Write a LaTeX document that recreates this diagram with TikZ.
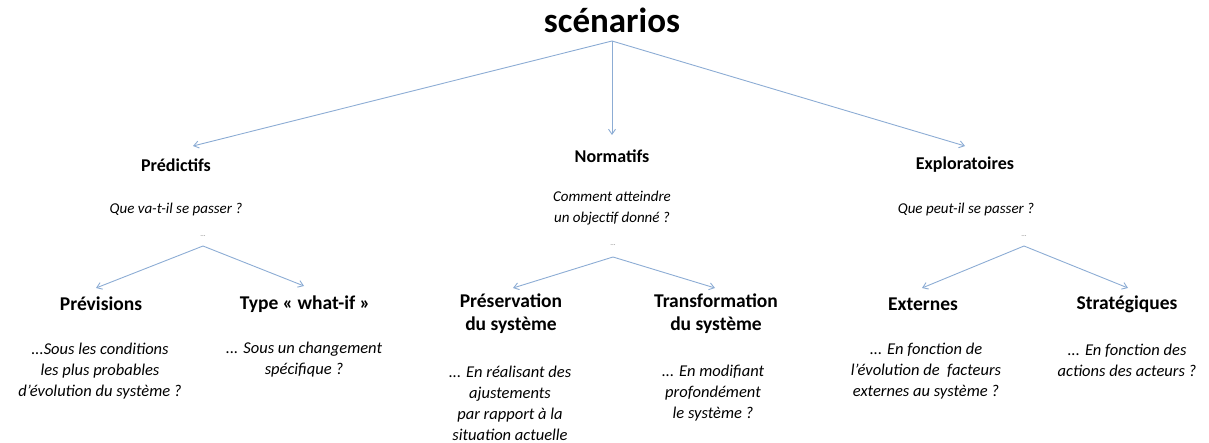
\documentclass[tikz,border=0pt]{standalone}
\usepackage{fontspec}
\setmainfont{Carlito}
\usetikzlibrary{arrows.meta}

\definecolor{lien}{RGB}{140,172,212}
\definecolor{points}{RGB}{120,120,120}

\tikzset{
    titre/.style={font=\fontsize{35}{38}\selectfont\bfseries},
    famille/.style={font=\fontsize{18}{21}\selectfont\bfseries, align=center},
    sousfamille/.style={font=\fontsize{19.5}{23}\selectfont\bfseries, align=center},
    question/.style={font=\fontsize{15}{21}\selectfont\itshape, align=center},
    detail/.style={font=\fontsize{16.5}{21}\selectfont\itshape, align=center},
    suite/.style={font=\fontsize{7}{8}\selectfont, text=points, inner sep=0pt},
    fleche/.style={draw=lien, line width=0.9pt, -{Straight Barb[length=5pt,width=7pt]}}
}

\begin{document}
\begin{tikzpicture}[x=1pt,y=-1pt]
        \useasboundingbox (0,0) rectangle (1209,443);
        % racine
        \node[titre] (scen) at (612,20) {scénarios};
        \coordinate (depart) at (612,41);
        % trois familles
        \node[famille] (pred) at (176,165) {Prédictifs};
        \node[famille] (norm) at (612,156) {Normatifs};
        \node[famille] (expl) at (965,165) {Exploratoires};
        \coordinate (predbout) at (193,146);
        \coordinate (normbout) at (612,135);
        \coordinate (explbout) at (965,146);
        \node[question] (qpred) at (176,210) {Que va-t-il se passer ?};
        \node[question] (qnorm) at (612,208) {Comment atteindre\\un objectif donné ?};
        \node[question] (qexpl) at (966,210) {Que peut-il se passer ?};
        \node[suite] (dpred) at (203,236) {...};
        \node[suite] (dnorm) at (613,245) {...};
        \node[suite] (dexpl) at (1024,236) {...};
        \draw[fleche] (depart) -- (predbout);
        \draw[fleche] (depart) -- (normbout);
        \draw[fleche] (depart) -- (explbout);
        % sous-types
        \node[sousfamille] (prev) at (101,304) {Prévisions};
        \node[sousfamille] (whatif) at (305,304) {Type « what-if »};
        \node[sousfamille] (pres) at (511,314) {Préservation\\du système};
        \node[sousfamille] (trans) at (716,314) {Transformation\\du système};
        \node[sousfamille] (ext) at (923,304) {Externes};
        \node[sousfamille] (strat) at (1127,304) {Stratégiques};
        \coordinate (p0) at (203,246);
        \coordinate (p1) at (96,288);
        \coordinate (p2) at (304,286);
        \coordinate (n0) at (613,257);
        \coordinate (n1) at (513,288);
        \coordinate (n2) at (715,288);
        \coordinate (e0) at (1024,246);
        \coordinate (e1) at (922,288);
        \coordinate (e2) at (1128,288);
        \foreach \a/\b in {p0/p1,p0/p2,n0/n1,n0/n2,e0/e1,e0/e2}
            \draw[fleche] (\a) -- (\b);
        % descriptions
        \node[detail] (dprev) at (100,371) {...Sous les conditions\\les plus probables\\d’évolution du système ?};
        \node[detail] (dwhat) at (304,360) {... Sous un changement\\spécifique ?};
        \node[detail] (dpres) at (510,403) {... En réalisant des\\ajustements\\par rapport à la\\situation actuelle};
        \node[detail] (dtrans) at (713,393) {... En modifiant\\profondément\\le système ?};
        \node[detail] (dext) at (926,371) {... En fonction de\\l’évolution de\ \ facteurs\\externes au système ?};
        \node[detail] (dstrat) at (1127,360) {... En fonction des\\actions des acteurs ?};
    \end{tikzpicture}
\end{document}
